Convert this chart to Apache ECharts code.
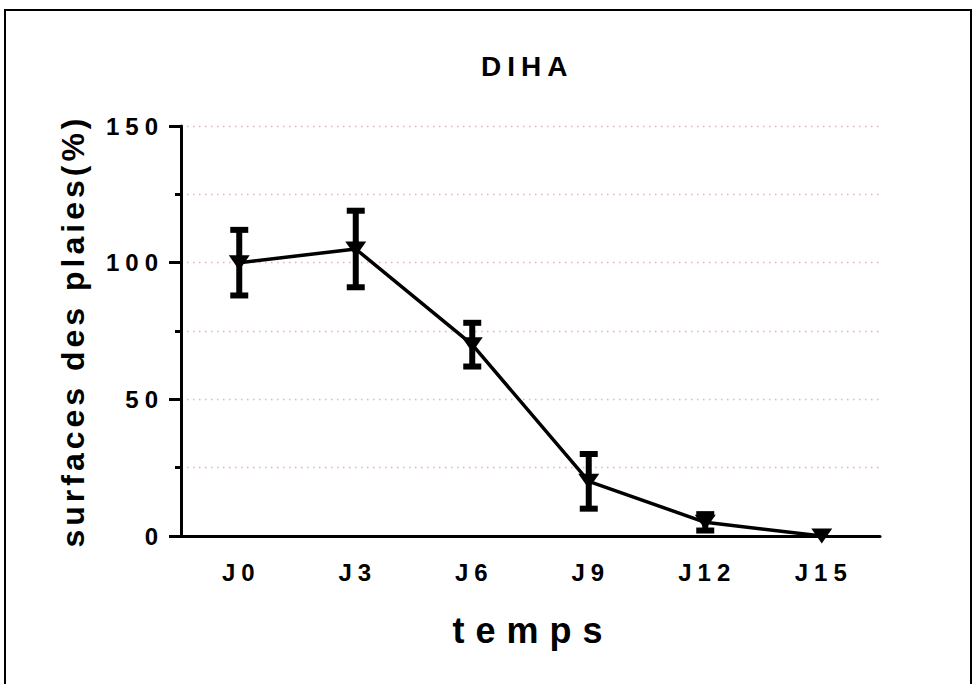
<!DOCTYPE html>
<html><head><meta charset="utf-8">
<script src="https://cdn.jsdelivr.net/npm/echarts@6/dist/echarts.min.js"></script>
<style>
html,body{margin:0;padding:0;background:#fff;}
#wrap{position:relative;width:976px;height:684px;overflow:hidden;}
#chart{position:absolute;left:0;top:0;width:976px;height:684px;}
#frame{position:absolute;left:4px;top:9px;width:964px;height:700px;border:2px solid #000;pointer-events:none;}
</style></head>
<body>
<div id="wrap"><div id="chart"></div><div id="frame"></div></div>
<script>
// ---- data ----
const categories = ['J0', 'J3', 'J6', 'J9', 'J12', 'J15'];
const means = [100, 105, 70, 20, 5, 0];
const errors = [12, 14, 8, 10, 3, 0];
const yMin = 0, yMax = 150, yStep = 50;
const titleText = 'DIHA';
const xName = 'temps';
const yName = 'surfaces des plaies(%)';

const FONT = 'Liberation Sans';
const errorData = categories.map((c, i) => [i, means[i] - errors[i], means[i] + errors[i]]);
const gridStyle = { color: '#f2a9c2', width: 1.3, type: [1.5, 4.5] };

const chart = echarts.init(document.getElementById('chart'), null, { renderer: 'svg' });
chart.setOption({
  animation: false,
  backgroundColor: 'transparent',
  title: {
    text: titleText, left: 481, top: 52, padding: 0,
    textStyle: { fontFamily: FONT, fontWeight: 'bold', fontSize: 28, color: '#000' }
  },
  grid: { left: 181, right: 96, top: 126, bottom: 148, containLabel: false },
  xAxis: {
    type: 'category', data: categories,
    name: xName, nameLocation: 'middle', nameGap: 76,
    nameTextStyle: { fontFamily: FONT, fontWeight: 'bold', fontSize: 36, color: '#000', padding: [0, 0, 0, 5] },
    axisLine: { lineStyle: { color: '#000', width: 3 } },
    axisTick: { alignWithLabel: true, length: 11, lineStyle: { color: '#000', width: 3 } },
    axisLabel: { margin: 24, fontFamily: FONT, fontWeight: 'bold', fontSize: 24, color: '#000', padding: [0, 0, 0, 4] },
    splitLine: { show: false }
  },
  yAxis: {
    type: 'value', min: yMin, max: yMax, interval: yStep,
    name: yName, nameLocation: 'middle', nameGap: 92, nameRotate: 90,
    nameTextStyle: { fontFamily: FONT, fontWeight: 'bold', fontSize: 32, color: '#000' },
    axisLine: { show: true, lineStyle: { color: '#000', width: 3 } },
    axisTick: { show: true, length: 12, lineStyle: { color: '#000', width: 3 } },
    minorTick: { show: true, splitNumber: 2, length: 6, lineStyle: { color: '#000', width: 3 } },
    axisLabel: { margin: 17, fontFamily: FONT, fontWeight: 'bold', fontSize: 24, color: '#000' },
    splitLine: { show: true, lineStyle: gridStyle },
    minorSplitLine: { show: true, lineStyle: gridStyle }
  },
  series: [
    {
      type: 'custom', name: 'err', data: errorData, z: 3,
      renderItem: function (params, api) {
        const lo = api.value(1), hi = api.value(2);
        if (hi - lo <= 0) return null;
        const pLo = api.coord([api.value(0), lo]);
        const pHi = api.coord([api.value(0), hi]);
        const hw = 9;
        const st = { stroke: '#000', lineWidth: 6 };
        return {
          type: 'group', children: [
            { type: 'line', shape: { x1: pLo[0], y1: pLo[1], x2: pHi[0], y2: pHi[1] }, style: st },
            { type: 'line', shape: { x1: pHi[0] - hw, y1: pHi[1], x2: pHi[0] + hw, y2: pHi[1] }, style: st },
            { type: 'line', shape: { x1: pLo[0] - hw, y1: pLo[1], x2: pLo[0] + hw, y2: pLo[1] }, style: st }
          ]
        };
      }
    },
    {
      type: 'line', name: 'DIHA', data: means, z: 4,
      symbol: 'triangle', symbolRotate: 180, symbolSize: [21, 15],
      itemStyle: { color: '#000' },
      lineStyle: { color: '#000', width: 3.5 }
    }
  ]
});

const spacing = { 'DIHA': 6, 'temps': 11, 'surfaces des plaies(%)': 4 };
function applySpacing() {
  document.querySelectorAll('#chart svg text').forEach(t => {
    const s = t.textContent;
    const ls = (s in spacing) ? spacing[s] : 6;
    t.style.letterSpacing = ls + 'px';
  });
}
applySpacing();
chart.on('finished', applySpacing);
setTimeout(applySpacing, 50);
</script>
</body></html>
